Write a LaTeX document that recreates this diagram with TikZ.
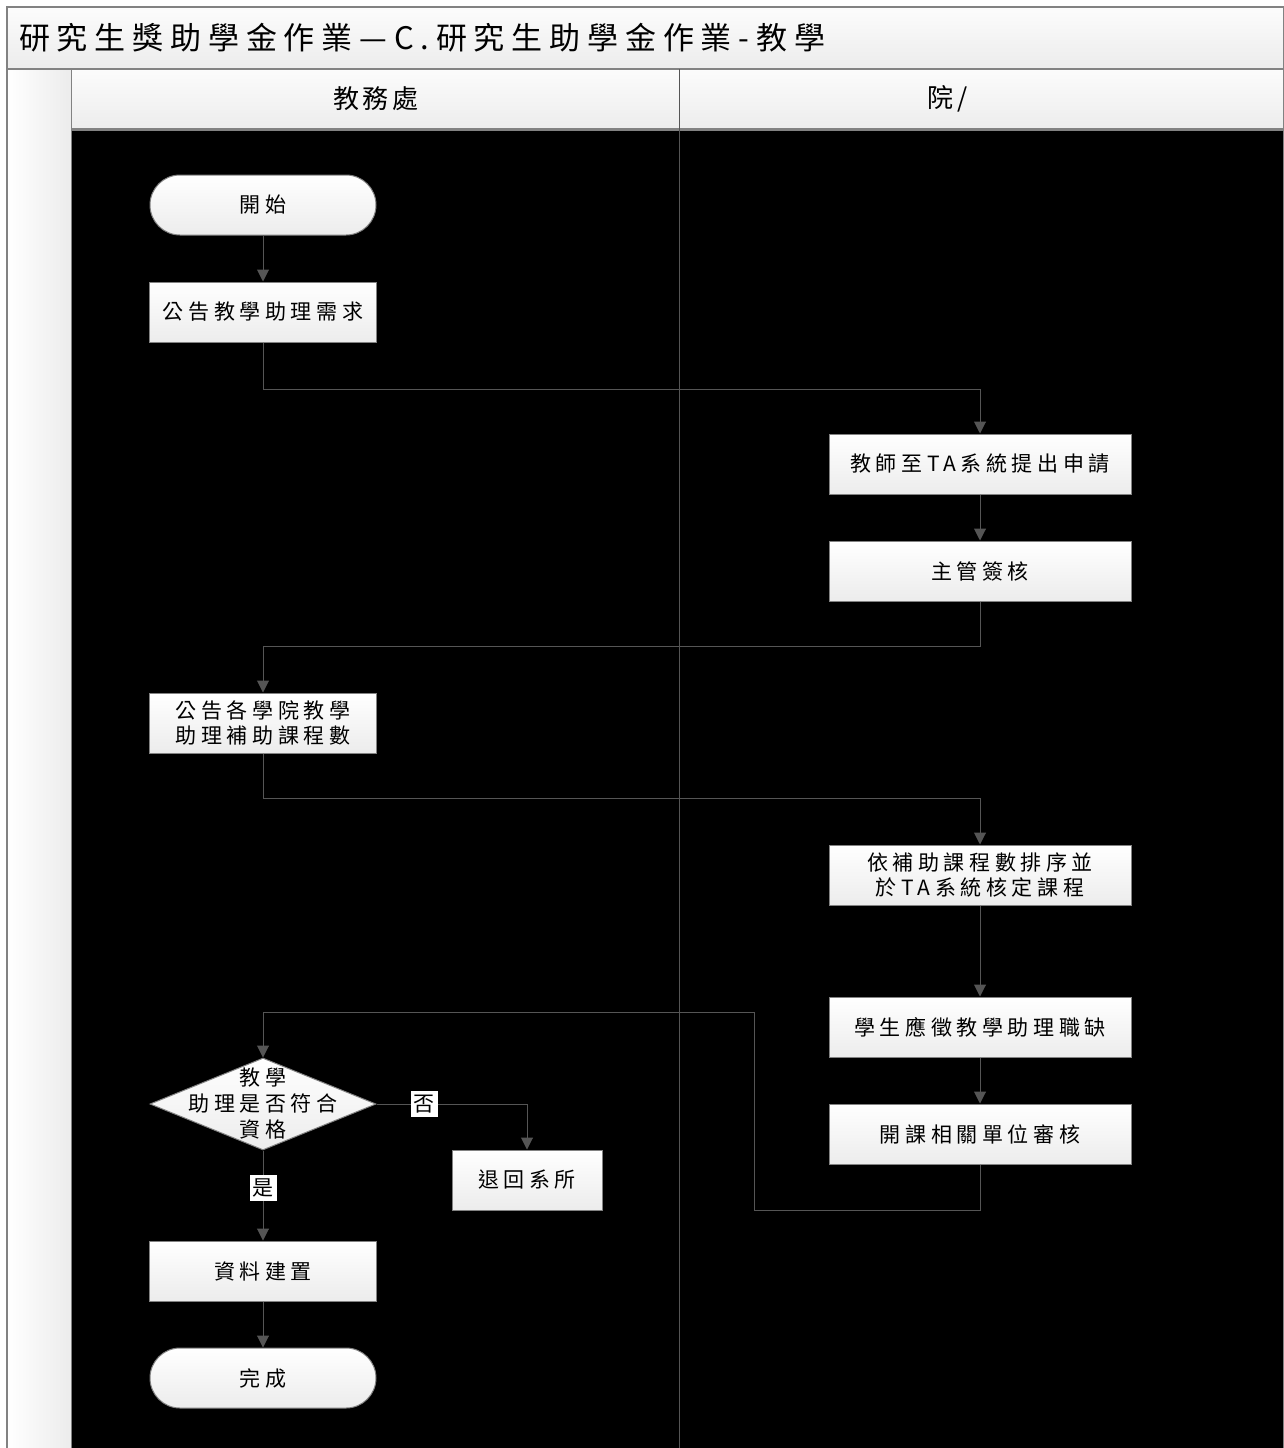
\documentclass[tikz,border=0pt]{standalone}
\usepackage{fontspec}
\usetikzlibrary{arrows.meta,shapes.geometric,calc}
\newfontfamily\cjk[LetterSpace=22]{Noto Sans CJK TC}
\newfontfamily\cjktitle[LetterSpace=22]{Noto Sans CJK TC}
\newfontfamily\cjkhead[LetterSpace=15]{Noto Sans CJK TC}
\definecolor{linegray}{RGB}{85,85,85}
\definecolor{framegray}{RGB}{130,130,130}
\definecolor{bandtop}{RGB}{252,252,252}
\definecolor{bandbot}{RGB}{236,236,236}
\begin{document}
\begin{tikzpicture}[x=1pt,y=-1pt,
  procbox/.style={rectangle,draw=framegray,line width=1pt,top color=white,bottom color=bandbot,
    minimum width=227pt,minimum height=60pt,inner sep=0pt,align=center,
    font=\cjk\fontsize{21pt}{25pt}\selectfont},
  widebox/.style={procbox,minimum width=302pt},
  smallbox/.style={procbox,minimum width=150pt},
  termbox/.style={procbox,rounded corners=30pt,minimum width=226pt},
  decbox/.style={diamond,draw=framegray,line width=1pt,top color=white,bottom color=bandbot,
    minimum width=226pt,minimum height=92pt,inner sep=0pt,aspect=2.45},
  txt/.style={font=\cjk\fontsize{21pt}{26pt}\selectfont,align=center,inner sep=0pt},
  yn/.style={fill=white,text=black,font=\cjk\fontsize{21pt}{22pt}\selectfont,inner sep=1pt,minimum width=27pt,minimum height=26pt},
  conn/.style={draw=linegray,line width=1pt,-{Triangle[length=12pt,width=12pt]}},
  seg/.style={draw=linegray,line width=1pt}]
\useasboundingbox (0,0) rectangle (1284,1448);
% background
\fill[white] (0,0) rectangle (1284,1448);
% title band
\shade[top color=bandtop,bottom color=bandbot] (7,7) rectangle (1284,69);
\node[font=\cjktitle\fontsize{31pt}{33pt}\selectfont,anchor=west,inner sep=0pt] (title) at (19,38) {研究生獎助學金作業—C.研究生助學金作業-教學};
% left strip
\shade[left color=white,right color=bandbot] (7,69) rectangle (71,1448);
% header band
\shade[top color=bandtop,bottom color=bandbot] (71,69) rectangle (1284,130);
\node[font=\cjkhead\fontsize{26pt}{28pt}\selectfont,inner sep=0pt] (h1) at (376,99) {教務處};
\node[font=\cjkhead\fontsize{26pt}{28pt}\selectfont,inner sep=0pt] (h2) at (948,99) {院/};
% black area
\fill[black] (71,130) rectangle (1284,1448);
% frame lines
\draw[framegray,line width=1.5pt] (7,1448) -- (7,7) -- (1284,7);
\draw[framegray,line width=1.5pt] (7,69) -- (1284,69);
\draw[framegray,line width=3pt] (71,129) -- (1284,129);
\draw[framegray,line width=1pt] (71,69) -- (71,1448);
\draw[framegray,line width=1pt] (1283,7) -- (1283,1448);
\draw[linegray,line width=1pt] (679,69) -- (679,1448);
% nodes
\node[termbox] (start) at (263,205) {開始};
\node[procbox] (a1) at (263,312) {公告教學助理需求};
\node[widebox] (b1) at (980,464) {教師至TA系統提出申請};
\node[widebox] (b2) at (980,571) {主管簽核};
\node[procbox] (a2) at (263,723) {公告各學院教學\\助理補助課程數};
\node[widebox] (b3) at (980,875) {依補助課程數排序並\\於TA系統核定課程};
\node[widebox] (b4) at (980,1027) {學生應徵教學助理職缺};
\node[widebox] (b5) at (980,1134) {開課相關單位審核};
\node[decbox] (dec) at (263,1104) {};
\node[txt] (dect) at (263,1104) {教學\\助理是否符合\\資格};
\node[smallbox] (ret) at (527,1180) {退回系所};
\node[procbox] (data) at (263,1271) {資料建置};
\node[termbox] (end) at (263,1378) {完成};
% junctions
\coordinate (j1) at (263,389);
\coordinate (j2) at (980,646);
\coordinate (j3) at (263,798);
\coordinate (j4) at (980,1210);
\coordinate (j5) at (754,1210);
\coordinate (j6) at (754,1012);
% connectors
\draw[conn] (start) -- (a1);
\draw[conn] (a1.south) -- (j1) -| (b1.north);
\draw[conn] (b1) -- (b2);
\draw[conn] (b2.south) -- (j2) -| (a2.north);
\draw[conn] (a2.south) -- (j3) -| (b3.north);
\draw[conn] (b3) -- (b4);
\draw[conn] (b4) -- (b5);
\draw[conn] (b5.south) -- (j4) -- (j5) -- (j6) -| (dec.north);
\draw[conn] (dec.east) -| (ret.north);
\draw[conn] (dec.south) -- (data.north);
\draw[conn] (data) -- (end);
% labels
\node[yn] (no) at (424,1104) {否};
\node[yn] (yes) at (263,1188) {是};
\end{tikzpicture}
\end{document}
